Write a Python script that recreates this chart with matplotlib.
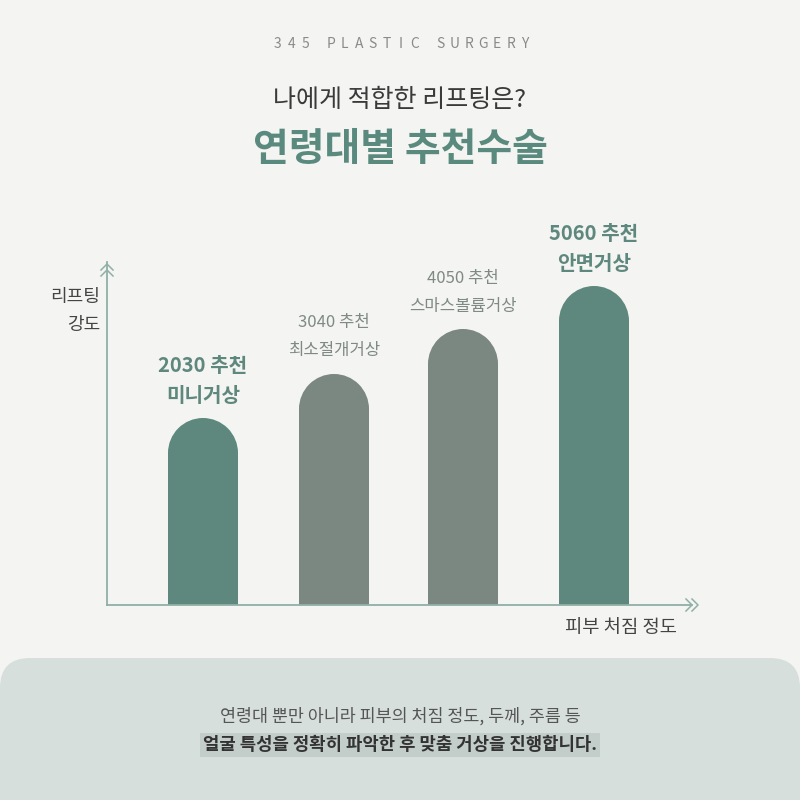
import matplotlib
matplotlib.use('Agg')
import matplotlib.pyplot as plt
from matplotlib.patches import Wedge, FancyBboxPatch

plt.rcParams['font.family'] = ['Noto Sans CJK KR', 'DejaVu Sans']

# data (bar heights in "lifting intensity" units, baseline = 0)
age_groups = ['2030 추천', '3040 추천', '4050 추천', '5060 추천']
surgeries = ['미니거상', '최소절개거상', '스마스볼륨거상', '안면거상']
intensity = [187, 231, 276, 319]
highlight = [True, False, False, True]

GREEN = '#5e887d'
GREY = '#7b8781'
BG = '#f4f4f2'

fig = plt.figure(figsize=(8, 8), dpi=100)
fig.patch.set_facecolor(BG)
ax = fig.add_axes([0, 0, 1, 1])
ax.set_xlim(0, 800)
ax.set_ylim(0, 800)
ax.axis('off')

base = 800 - 605
xc = [203, 334, 463, 594]
w = 70
r = w / 2

# header, letter-spaced (spaces get a shorter advance)
brand = '345 PLASTIC SURGERY'
adv = [0.9 if (brand[k] == ' ' or brand[k + 1] == ' ') else 1.0 for k in range(len(brand) - 1)]
scale = 248 / sum(adv)
pos = 277
for k, ch in enumerate(brand):
    if ch != ' ':
        ax.text(pos, 756, ch, ha='center', va='center', fontsize=10, color='#8a8a8a')
    if k < len(adv):
        pos += adv[k] * scale
ax.text(400, 700, '나에게 적합한 리프팅은?', ha='center', va='center',
        fontsize=18, color='#3a3a3a')
ax.text(400, 650, '연령대별 추천수술', ha='center', va='center',
        fontsize=28, color='#5a8a7d', fontweight='bold')

# bars with rounded tops
for i in range(len(intensity)):
    c = GREEN if highlight[i] else GREY
    ax.bar(xc[i], intensity[i] - r, bottom=base, width=w, color=c, linewidth=0)
    ax.add_patch(Wedge((xc[i], base + intensity[i] - r), r, 0, 180, color=c, linewidth=0))
    top = base + intensity[i]
    if highlight[i]:
        ax.text(xc[i], top + 52, age_groups[i], ha='center', va='center',
                fontsize=14.5, fontweight='bold', color=GREEN)
        ax.text(xc[i], top + 22, surgeries[i], ha='center', va='center',
                fontsize=14.5, fontweight='bold', color=GREEN)
    else:
        ax.text(xc[i], top + 51, age_groups[i], ha='center', va='center',
                fontsize=12, color='#7f8a85')
        ax.text(xc[i], top + 23, surgeries[i], ha='center', va='center',
                fontsize=12, color='#7f8a85')

# axes lines
ax.plot([107, 107], [base, 800 - 262], color='#8fb0a6', lw=1.3)
ax.plot([107, 692], [base, base], color='#8fb0a6', lw=1.3)
for dy in (0, 6):
    ax.plot([101, 107, 113], [800 - 270 - dy, 800 - 264 - dy, 800 - 270 - dy],
            color='#8fb0a6', lw=1.1)
for dx in (0, 6):
    ax.plot([686 + dx, 692 + dx, 686 + dx], [base + 6, base, base - 6],
            color='#8fb0a6', lw=1.1)

ax.text(100, 800 - 297, '리프팅', ha='right', va='center', fontsize=13, color='#444444')
ax.text(100, 800 - 325, '강도', ha='right', va='center', fontsize=13, color='#444444')
ax.text(677, 800 - 628, '피부 처짐 정도', ha='right', va='center', fontsize=13.5, color='#444444')

# bottom panel
ax.add_patch(FancyBboxPatch((0, -40), 800, 182, boxstyle='round,pad=0,rounding_size=30',
                            facecolor='#d6dfdc', edgecolor='none'))
ax.text(400, 800 - 716, '연령대 뿐만 아니라 피부의 처짐 정도, 두께, 주름 등',
        ha='center', va='center', fontsize=12.5, color='#555555')
ax.text(400, 800 - 745, '얼굴 특성을 정확히 파악한 후 맞춤 거상을 진행합니다.',
        ha='center', va='center', fontsize=12.8, fontweight='bold', color='#333333',
        bbox=dict(boxstyle='square,pad=0.15', facecolor='#c3cdc9', edgecolor='none'))

fig.savefig('out.png', dpi=100, facecolor=BG)
